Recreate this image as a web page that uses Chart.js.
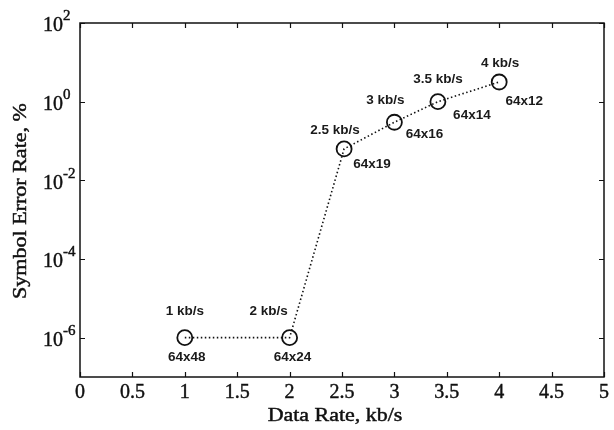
<!DOCTYPE html>
<html>
<head>
<meta charset="utf-8">
<script src="https://cdn.jsdelivr.net/npm/chart.js@4"></script>
<style>
  html, body { margin: 0; padding: 0; background: #fff; }
  #wrap { width: 614px; height: 430px; }
</style>
</head>
<body>
<div id="wrap"><canvas id="myChart" width="614" height="430"></canvas></div>
<script>
// data
const dataRates = [1, 2, 2.52, 3.0, 3.415, 4.0];          // kb/s
const errorRates = [1e-6, 1e-6, 0.063, 0.30, 1.0, 3.16];  // %
const rateLabels = ['1 kb/s', '2 kb/s', '2.5 kb/s', '3 kb/s', '3.5 kb/s', '4 kb/s'];
const sizeLabels = ['64x48', '64x24', '64x19', '64x16', '64x14', '64x12'];

const xTicks = [0, 0.5, 1, 1.5, 2, 2.5, 3, 3.5, 4, 4.5, 5];
const yTickExps = [-6, -4, -2, 0, 2];

// label offsets from each point (px): above / below
const topOffsets = [[0, -26], [-21, -26], [-9, -19], [-9, -22], [0, -22], [1, -19]];
const bottomOffsets = [[2, 20], [3, 20], [28, 15], [30, 12], [34, 14], [25, 19]];

document.addEventListener("DOMContentLoaded", function() {
    const ctx = document.getElementById('myChart').getContext('2d');
    const serif = '"Liberation Serif", "Times New Roman", serif';
    const sans = '"Liberation Sans", Arial, sans-serif';

    // serif text in the original is a bit heavier than Liberation Serif
    function heavyText(c, text, x, y) {
        c.fillText(text, x, y);
        c.strokeText(text, x, y);
    }

    // stretched text, the original titles use a wide serif
    function wideText(c, text, x, y, sx) {
        c.save();
        c.translate(x, y);
        c.scale(sx, 1);
        heavyText(c, text, 0, 0);
        c.restore();
    }

    const framePlugin = {
        id: 'frame',
        afterDraw(chart) {
            const c = chart.ctx;
            const a = chart.chartArea;
            const xs = chart.scales.x;
            const ys = chart.scales.y;
            c.save();
            c.strokeStyle = '#111';
            c.lineWidth = 1.5;
            c.strokeRect(a.left, a.top, a.right - a.left, a.bottom - a.top);

            // inward ticks
            c.lineWidth = 1.2;
            const tl = 5;
            c.beginPath();
            xTicks.forEach(v => {
                const px = Math.round(xs.getPixelForValue(v)) + 0.5;
                c.moveTo(px, a.bottom); c.lineTo(px, a.bottom - tl);
                c.moveTo(px, a.top); c.lineTo(px, a.top + tl);
            });
            yTickExps.forEach(e => {
                const py = Math.round(ys.getPixelForValue(Math.pow(10, e))) + 0.5;
                c.moveTo(a.left, py); c.lineTo(a.left + tl, py);
                c.moveTo(a.right, py); c.lineTo(a.right - tl, py);
            });
            c.stroke();

            c.fillStyle = '#111';
            c.strokeStyle = '#111';
            c.lineWidth = 0.45;

            // x tick labels
            c.font = '20px ' + serif;
            c.textAlign = 'center';
            c.textBaseline = 'middle';
            xTicks.forEach(v => {
                heavyText(c, String(v), xs.getPixelForValue(v), a.bottom + 16);
            });

            // y tick labels: 10 with superscript exponent
            yTickExps.forEach(e => {
                const py = ys.getPixelForValue(Math.pow(10, e));
                c.font = '20px ' + serif;
                c.textAlign = 'right';
                c.textBaseline = 'middle';
                heavyText(c, '10', 63, py + 3);
                c.font = '15px ' + serif;
                c.textAlign = 'left';
                heavyText(c, e < 0 ? '-' + Math.abs(e) : String(e), 63, py - 6.5);
            });

            // axis titles
            c.font = '19px ' + serif;
            c.textAlign = 'center';
            c.textBaseline = 'middle';
            wideText(c, 'Data Rate, kb/s', 335, 416, 1.155);
            c.save();
            c.translate(21.5, 201);
            c.rotate(-Math.PI / 2);
            wideText(c, 'Symbol Error Rate, %', 0, 0, 1.16);
            c.restore();

            // point annotations
            c.font = 'bold 13.5px ' + sans;
            c.textAlign = 'center';
            c.textBaseline = 'middle';
            c.fillStyle = '#1a1a1a';
            dataRates.forEach((x, i) => {
                const px = xs.getPixelForValue(x);
                const py = ys.getPixelForValue(errorRates[i]);
                c.fillText(rateLabels[i], px + topOffsets[i][0], py + topOffsets[i][1]);
                c.fillText(sizeLabels[i], px + bottomOffsets[i][0], py + bottomOffsets[i][1]);
            });
            c.restore();
        }
    };

    new Chart(ctx, {
        type: 'scatter',
        data: {
            datasets: [{
                data: dataRates.map((x, i) => ({ x: x, y: errorRates[i] })),
                showLine: true,
                borderColor: '#111',
                borderWidth: 1.6,
                borderDash: [1.5, 2.5],
                pointRadius: 7.5,
                pointBorderWidth: 1.8,
                pointBorderColor: '#111',
                pointBackgroundColor: 'rgba(0,0,0,0)',
                clip: false
            }]
        },
        options: {
            responsive: false,
            animation: false,
            layout: { padding: { left: 80, right: 10, top: 23, bottom: 53 } },
            plugins: {
                legend: { display: false },
                tooltip: { enabled: false }
            },
            scales: {
                x: { type: 'linear', min: 0, max: 5, display: false },
                y: { type: 'logarithmic', min: 1e-7, max: 100, display: false }
            }
        },
        plugins: [framePlugin]
    });
});
</script>
</body>
</html>
